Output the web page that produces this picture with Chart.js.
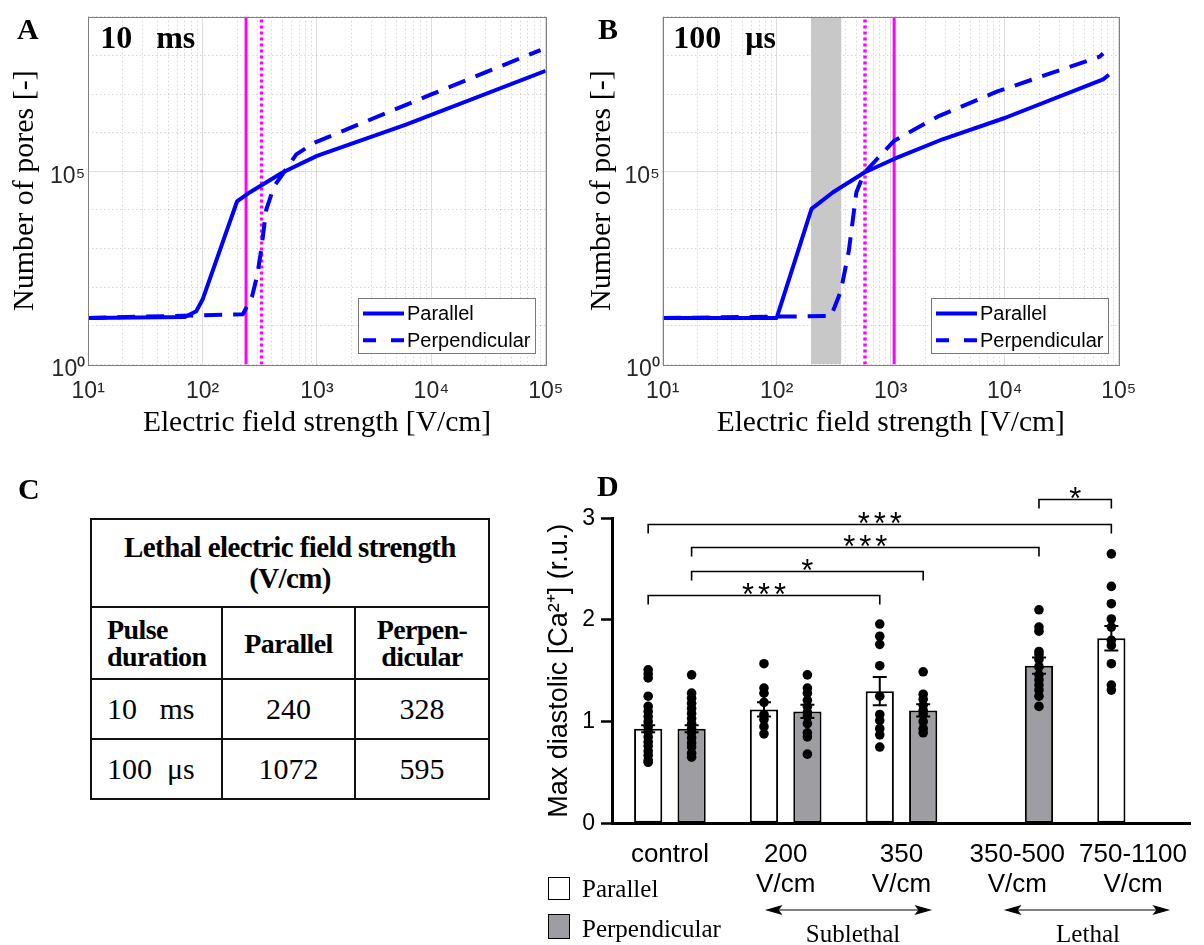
<!DOCTYPE html>
<html>
<head>
<meta charset="utf-8">
<title>Pores and diastolic calcium</title>
<script src="https://cdn.jsdelivr.net/npm/chart.js@4.4.1/dist/chart.umd.min.js"></script>
<style>
  body { margin: 0; width: 1204px; height: 945px; position: relative; overflow: hidden; background: #fff;
         font-family: "Liberation Serif", "Times New Roman", serif; color: #000; }
  .abs { position: absolute; }
  canvas { display: block; }
  .letter { position: absolute; font-weight: bold; font-size: 30px; line-height: 30px; }
  #tableC { position: absolute; left: 90px; top: 518px; width: 398px; border-collapse: collapse; table-layout: fixed; }
  #tableC td { border: 2px solid #111; padding: 0; vertical-align: middle; }
  #tableC .head { height: 86px; text-align: center; font-weight: bold; font-size: 29px; line-height: 31px; letter-spacing: -0.6px; }
  #tableC .colh { height: 70px; font-weight: bold; font-size: 28px; line-height: 27px; letter-spacing: -0.6px; text-align: center; }
  #tableC .colh.first { text-align: left; padding-left: 15px; }
  #tableC .row td { height: 58px; font-size: 30px; text-align: center; }
  #tableC .row td.dur { text-align: left; padding-left: 15px; white-space: pre; }
  .legD { position: absolute; font-size: 25px; line-height: 25px; }
  .sw { position: absolute; width: 20px; height: 21px; border: 1.5px solid #000; }
</style>
</head>
<body>

<div class="abs" style="left:0;top:0"><canvas id="chartA" width="580" height="445"></canvas></div>
<div class="abs" style="left:580px;top:0"><canvas id="chartB" width="624" height="445"></canvas></div>
<div class="abs" style="left:540px;top:460px"><canvas id="chartD" width="664" height="485"></canvas></div>

<table id="tableC">
  <colgroup><col style="width:131px"><col style="width:133px"><col style="width:134px"></colgroup>
  <tbody id="tableBody">
    <tr><td class="head" colspan="3">Lethal electric field strength<br>(V/cm)</td></tr>
    <tr><td class="colh first">Pulse<br>duration</td><td class="colh">Parallel</td><td class="colh">Perpen-<br>dicular</td></tr>
  </tbody>
</table>

<div class="letter" style="left:17px;top:14px">A</div>
<div class="letter" style="left:598px;top:14px">B</div>
<div class="letter" style="left:18px;top:474px">C</div>
<div class="letter" style="left:597px;top:471px">D</div>

<!-- panel D legend and range arrows -->
<div class="sw" style="left:548px;top:877px;background:#fff"></div>
<div class="sw" style="left:548px;top:914px;height:23px;background:#9e9ea2"></div>
<div class="legD" style="left:582px;top:876px">Parallel</div>
<div class="legD" style="left:582px;top:916px">Perpendicular</div>
<svg class="abs" style="left:0;top:0" width="1204" height="945">
  <g stroke="#000" stroke-width="1.2" fill="#000">
    <line x1="772" y1="910" x2="925" y2="910"/>
    <polygon points="767,910 781,906 778,910 781,914"/>
    <polygon points="930,910 916,906 919,910 916,914"/>
    <line x1="1011" y1="910" x2="1163" y2="910"/>
    <polygon points="1006,910 1020,906 1017,910 1020,914"/>
    <polygon points="1168,910 1154,906 1157,910 1154,914"/>
  </g>
</svg>
<div class="legD" style="left:853px;top:921px;transform:translateX(-50%)">Sublethal</div>
<div class="legD" style="left:1088px;top:921px;transform:translateX(-50%)">Lethal</div>

<script>
// ---------- panel A : 10 ms pulses ----------
const aParallelE = [10, 70, 88, 100, 200, 260, 500, 1000, 6000, 100000];
const aParallelN = [16, 17, 24, 48, 16600, 28800, 93000, 251000, 1620000, 40000000];
const aPerpE = [10, 225, 270, 300, 325, 360, 420, 500, 660, 950, 10000, 90000];
const aPerpN = [16, 20, 56, 200, 890, 10000, 40000, 83000, 275000, 550000, 9800000, 138000000];

// ---------- panel B : 100 us pulses ----------
const bParallelE = [10, 100, 202, 312, 588, 1070, 2850, 10000, 73000, 82000];
const bParallelN = [16, 16, 10700, 28800, 93000, 209000, 676000, 2400000, 24000000, 31600000];
const bPerpE = [10, 300, 365, 428, 500, 588, 1070, 2640, 8630, 68000, 73000];
const bPerpN = [16, 18, 79, 830, 28800, 93000, 617000, 2700000, 11700000, 93000000, 112000000];
const bSublethalBand = [200, 370];

// ---------- panel C : lethal field strength (also the magenta lines) ----------
const pulseDurations = ['10   ms', '100  μs'];
const lethalParallel = [240, 1072];
const lethalPerpendicular = [328, 595];

// axis ranges / tick labels for A and B
const X_MIN = 10, X_MAX = 100000, Y_MIN = 1, Y_MAX = 1e9;
const yLabelValues = [1, 100000];

// ---------- panel D : max diastolic Ca ----------
const groups = [['control'], ['200', 'V/cm'], ['350', 'V/cm'], ['350-500', 'V/cm'], ['750-1100', 'V/cm']];
const meanParallel = [0.93, 1.12, 1.30, null, 1.82];
const meanPerp = [0.93, 1.10, 1.11, 1.55, null];
const semParallel = [0.035, 0.07, 0.14, null, 0.12];
const semPerp = [0.035, 0.065, 0.06, 0.08, null];
const cellsParallel = [
  [1.51, 1.47, 1.43, 1.25, 1.15, 1.10, 1.05, 1.00, 0.95, 0.90, 0.85, 0.80, 0.76, 0.71, 0.67, 0.62, 0.60],
  [1.57, 1.33, 1.28, 1.19, 1.07, 1.02, 0.95, 0.88],
  [1.96, 1.84, 1.76, 1.55, 1.25, 1.07, 1.01, 0.93, 0.87, 0.75],
  [],
  [2.65, 2.33, 2.16, 2.01, 1.93, 1.80, 1.75, 1.57, 1.36, 1.31]
];
const cellsPerp = [
  [1.46, 1.28, 1.23, 1.18, 1.13, 1.08, 1.03, 0.98, 0.93, 0.89, 0.84, 0.79, 0.75, 0.69, 0.65],
  [1.46, 1.33, 1.28, 1.21, 1.15, 1.09, 1.05, 0.98, 0.89, 0.85, 0.68],
  [1.49, 1.27, 1.22, 1.16, 1.11, 1.07, 1.00, 0.93, 0.89],
  [2.10, 1.93, 1.89, 1.69, 1.66, 1.61, 1.54, 1.46, 1.41, 1.36, 1.31, 1.25, 1.15],
  []
];
// [bar dataset, group] pairs; y = bracket height in r.u.
const brackets = [
  { from: [0, 0], to: [0, 4], y: 2.94, text: '***' },
  { from: [1, 0], to: [1, 3], y: 2.72, text: '***' },
  { from: [1, 0], to: [1, 2], y: 2.48, text: '*' },
  { from: [0, 0], to: [0, 2], y: 2.25, text: '***' },
  { from: [1, 3], to: [0, 4], y: 3.19, text: '*' }
];

const SERIF = '"Liberation Serif", "Times New Roman", serif';
const SANS = '"Liberation Sans", Arial, sans-serif';
const BLUE = '#0000ff';
const MAGENTA = '#ff00ff';
const MAJOR = 'rgba(0,0,0,0.13)';
const MINOR = 'rgba(0,0,0,0.16)';
const SUP = '⁰¹²³⁴⁵⁶⁷⁸⁹';

Chart.defaults.animation = false;
Chart.defaults.events = [];
Chart.defaults.plugins.legend.display = false;
Chart.defaults.plugins.tooltip.enabled = false;

// table C from the data arrays
const tbody = document.getElementById('tableBody');
pulseDurations.forEach((d, i) => {
  const tr = document.createElement('tr');
  tr.className = 'row';
  tr.innerHTML = `<td class="dur">${d}</td><td>${lethalParallel[i]}</td><td>${lethalPerpendicular[i]}</td>`;
  tbody.appendChild(tr);
});

function isDecade(v) {
  const l = Math.log10(v);
  return Math.abs(l - Math.round(l)) < 1e-9;
}
function pow10Label(v) {
  return '10' + SUP[Math.round(Math.log10(v))];
}
function logTicks(min, max) {
  let t = [];
  for (let d = min; d < max; d *= 10) {
    for (let m = 1; m < 10; m++) t.push({ value: m * d });
  }
  t.push({ value: max });
  return t;
}
function decadeTicks(min, max) {
  let t = [];
  for (let d = min; d <= max * 1.0001; d *= 10) t.push({ value: d });
  return t;
}
function xy(xs, ys) {
  return xs.map((x, i) => ({ x: x, y: ys[i] }));
}
function vline(x) {
  return [{ x: x, y: Y_MIN }, { x: x, y: Y_MAX }];
}

// legend box drawn inside the plot (bottom right)
const boxLegend = {
  id: 'boxLegend',
  afterDraw(chart, args, o) {
    const { ctx, chartArea: a } = chart;
    const items = chart.data.datasets.filter(d => d.inLegend);
    const x0 = Math.round(a.right - o.right - o.width), y0 = Math.round(a.bottom - o.bottom - o.height);
    ctx.save();
    ctx.fillStyle = '#fff';
    ctx.fillRect(x0, y0, o.width, o.height);
    ctx.strokeStyle = '#7a7a7a';
    ctx.lineWidth = 1;
    ctx.strokeRect(x0 + 0.5, y0 + 0.5, o.width, o.height);
    ctx.font = o.font;
    ctx.textBaseline = 'middle';
    items.forEach((d, i) => {
      const y = y0 + o.rowTop + i * o.rowGap;
      ctx.beginPath();
      ctx.setLineDash(d.borderDash ? o.dash : []);
      ctx.strokeStyle = d.borderColor;
      ctx.lineWidth = d.borderWidth;
      ctx.moveTo(x0 + 5, y);
      ctx.lineTo(x0 + 5 + o.sample, y);
      ctx.stroke();
      ctx.setLineDash([]);
      ctx.fillStyle = '#000';
      ctx.fillText(d.label, x0 + 8 + o.sample, y + 1);
    });
    ctx.restore();
  }
};

// "10 ms" / "100 us" tag in the upper left of the plot
const panelTag = {
  id: 'panelTag',
  afterDraw(chart, args, o) {
    const { ctx, chartArea: a } = chart;
    ctx.save();
    ctx.font = 'bold 32px ' + SERIF;
    ctx.fillStyle = '#000';
    ctx.textBaseline = 'alphabetic';
    ctx.fillText(o.text, a.left + o.dx, o.y);
    ctx.restore();
  }
};

// MATLAB style box around the axes
const frame = {
  id: 'frame',
  afterDatasetsDraw(chart) {
    const { ctx, chartArea: a } = chart;
    ctx.save();
    ctx.strokeStyle = '#808080';
    ctx.lineWidth = 1;
    ctx.strokeRect(Math.round(a.left) + 0.5, Math.round(a.top) + 0.5, Math.round(a.right - a.left), Math.round(a.bottom - a.top));
    ctx.restore();
  }
};

function poresChart(id, o) {
  const datasets = [
    { label: 'Parallel', data: xy(o.parE, o.parN), borderColor: BLUE, borderWidth: 4, inLegend: true, order: 0 },
    { label: 'Perpendicular', data: xy(o.perE, o.perN), borderColor: BLUE, borderWidth: 4, borderDash: [18, 11], inLegend: true, order: 0 },
    { label: 'Lethal, parallel', data: vline(o.lethalPar), borderColor: MAGENTA, borderWidth: 3, order: 1 },
    { label: 'Lethal, perpendicular', data: vline(o.lethalPerp), borderColor: MAGENTA, borderWidth: 3.5, borderDash: [3, 3], order: 1 }
  ];
  if (o.band) {
    datasets.push({ label: 'Sublethal', data: o.band.map(x => ({ x: x, y: Y_MAX })), borderWidth: 0,
                    fill: 'start', backgroundColor: '#c8c8c8', order: 2 });
  }
  return new Chart(document.getElementById(id), {
    type: 'line',
    data: { datasets: datasets },
    options: {
      responsive: false,
      layout: { padding: { left: 0, top: 12.7, right: o.padRight, bottom: 0 } },
      elements: { point: { radius: 0 }, line: { tension: 0, fill: false, borderJoinStyle: 'round' } },
      scales: {
        x: {
          type: 'logarithmic', min: X_MIN, max: X_MAX,
          afterBuildTicks: s => { s.ticks = logTicks(X_MIN, X_MAX); },
          afterFit: s => { s.height = 80.5; },
          ticks: {
            autoSkip: false, maxRotation: 0, padding: 13, color: '#262626',
            font: { family: SANS, size: 23 },
            callback: v => isDecade(v) ? pow10Label(v) : ''
          },
          grid: { drawTicks: false, lineWidth: 1, color: c => (c.tick && isDecade(c.tick.value)) ? MAJOR : MINOR },
          border: { display: false, dash: c => (c.tick && !isDecade(c.tick.value)) ? [1.5, 2.5] : [] },
          title: {
            display: true, text: 'Electric field strength [V/cm]', color: '#000',
            font: { family: SERIF, size: 29.5 }, padding: { top: 0, bottom: 3.6 }
          }
        },
        y: {
          type: 'logarithmic', min: Y_MIN, max: Y_MAX,
          afterBuildTicks: s => { s.ticks = decadeTicks(Y_MIN, Y_MAX); },
          afterFit: s => { s.width = o.yAxisW; },
          ticks: {
            autoSkip: false, padding: 3, labelOffset: 5, color: '#262626',
            font: { family: SANS, size: 23 },
            callback: v => yLabelValues.includes(v) ? pow10Label(v) : ''
          },
          grid: { drawTicks: false, lineWidth: 1, color: c => (c.tick && c.tick.value === 100000) ? MAJOR : MINOR },
          border: { display: false, dash: c => (c.tick && c.tick.value !== 100000) ? [1.5, 2.5] : [] },
          title: {
            display: true, text: 'Number of pores [-]', color: '#000',
            font: { family: SERIF, size: 30 }, padding: { top: o.yTitlePad, bottom: 0 }
          }
        }
      },
      plugins: {
        boxLegend: { width: 177, height: 55, right: 11, bottom: 12, sample: 41, rowTop: 15.6, rowGap: 26.7,
                     dash: [13, 15], font: '20px ' + SANS },
        panelTag: { text: o.tag, dx: o.tagDx, y: 48 }
      }
    },
    plugins: [frame, boxLegend, panelTag]
  });
}

poresChart('chartA', {
  parE: aParallelE, parN: aParallelN, perE: aPerpE, perN: aPerpN,
  lethalPar: lethalParallel[0], lethalPerp: lethalPerpendicular[0],
  tag: '10   ms', tagDx: 12, yAxisW: 88.2, padRight: 34.3, yTitlePad: 7
});
poresChart('chartB', {
  parE: bParallelE, parN: bParallelN, perE: bPerpE, perN: bPerpN,
  lethalPar: lethalParallel[1], lethalPerp: lethalPerpendicular[1], band: bSublethalBand,
  tag: '100   μs', tagDx: 10.6, yAxisW: 82.7, padRight: 85.3, yTitlePad: 4
});

// ---------- panel D ----------
const CAT_PCT = 0.75, BAR_PCT = 0.65;

// individual cells as dots on top of their bar, positioned with the bar element and y scale
const cellDots = {
  id: 'cellDots',
  afterDatasetsDraw(chart) {
    const { ctx, scales: { y } } = chart;
    ctx.save();
    ctx.fillStyle = '#000';
    chart.data.datasets.forEach((ds, di) => {
      if (!ds.cells) return;
      const meta = chart.getDatasetMeta(di);
      ds.cells.forEach((vals, g) => {
        const x = meta.data[g].x;
        vals.forEach(v => {
          ctx.beginPath();
          ctx.arc(x, y.getPixelForValue(v), 4.8, 0, Math.PI * 2);
          ctx.fill();
        });
      });
    });
    ctx.restore();
  }
};

const errorBars = {
  id: 'errorBars',
  afterDatasetsDraw(chart) {
    const { ctx, scales: { y } } = chart;
    ctx.save();
    ctx.strokeStyle = '#000';
    ctx.lineWidth = 2;
    chart.data.datasets.forEach((ds, di) => {
      if (!ds.sem) return;
      const meta = chart.getDatasetMeta(di);
      ds.data.forEach((m, g) => {
        if (m == null) return;
        const x = meta.data[g].x;
        const hi = y.getPixelForValue(m + ds.sem[g]);
        const lo = y.getPixelForValue(m - ds.sem[g]);
        ctx.beginPath();
        ctx.moveTo(x, hi); ctx.lineTo(x, lo);
        ctx.moveTo(x - 7, hi); ctx.lineTo(x + 7, hi);
        ctx.moveTo(x - 7, lo); ctx.lineTo(x + 7, lo);
        ctx.stroke();
      });
    });
    ctx.restore();
  }
};

const sigBrackets = {
  id: 'sigBrackets',
  afterDraw(chart) {
    const { ctx, scales: { y } } = chart;
    const barX = p => chart.getDatasetMeta(p[0]).data[p[1]].x;
    ctx.save();
    ctx.strokeStyle = '#000';
    ctx.fillStyle = '#000';
    ctx.lineWidth = 1.6;
    ctx.font = '31px ' + SANS;
    ctx.textAlign = 'center';
    ctx.textBaseline = 'alphabetic';
    ctx.letterSpacing = '4px';
    brackets.forEach(b => {
      const x1 = barX(b.from), x2 = barX(b.to);
      const yy = Math.round(y.getPixelForValue(b.y)) + 0.5;
      ctx.beginPath();
      ctx.moveTo(x1, yy + 9); ctx.lineTo(x1, yy); ctx.lineTo(x2, yy); ctx.lineTo(x2, yy + 9);
      ctx.stroke();
      ctx.fillText(b.text, (x1 + x2) / 2 + 2, yy + 9);
    });
    ctx.restore();
  }
};

new Chart(document.getElementById('chartD'), {
  type: 'bar',
  data: {
    labels: groups,
    datasets: [
      { label: 'Parallel', data: meanParallel, sem: semParallel, cells: cellsParallel, backgroundColor: '#ffffff',
        borderColor: '#000', borderWidth: 2, borderSkipped: false },
      { label: 'Perpendicular', data: meanPerp, sem: semPerp, cells: cellsPerp, backgroundColor: '#9e9ea2',
        borderColor: '#000', borderWidth: 2, borderSkipped: false }
    ]
  },
  options: {
    responsive: false,
    layout: { padding: { left: 0, top: 58.3, right: 2.7, bottom: 41.7 } },
    categoryPercentage: CAT_PCT,
    barPercentage: BAR_PCT,
    scales: {
      x: {
        type: 'category', offset: true,
        afterFit: s => { s.height = 80; },
        grid: { display: false, drawTicks: false },
        border: { color: '#000', width: 3 },
        ticks: { color: '#000', padding: 16.7, maxRotation: 0, autoSkip: false,
                 font: { family: SANS, size: 26, lineHeight: 30 / 26 } }
      },
      y: {
        min: 0, max: 3,
        afterFit: s => { s.width = 72; },
        ticks: { stepSize: 1, color: '#000', padding: 6, font: { family: SANS, size: 23 } },
        grid: { drawOnChartArea: false, drawTicks: true, tickLength: 11, tickWidth: 2.5, tickColor: '#000', color: '#000' },
        border: { color: '#000', width: 3 },
        title: { display: true, text: 'Max diastolic [Ca²⁺] (r.u.)', color: '#000',
                 font: { family: SANS, size: 27 }, padding: { top: 3.8, bottom: 0 } }
      }
    }
  },
  plugins: [cellDots, errorBars, sigBrackets]
});
</script>
</body>
</html>
